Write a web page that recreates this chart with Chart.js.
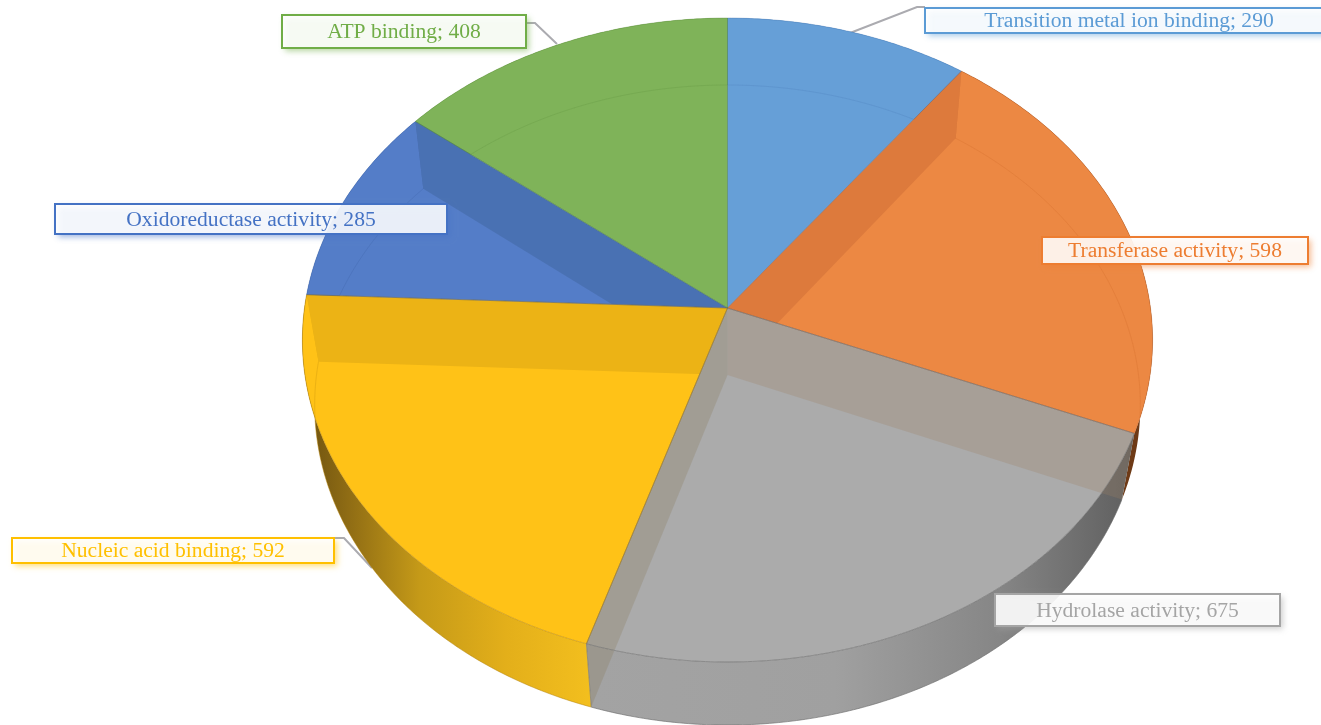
<!DOCTYPE html>
<html>
<head>
<meta charset="utf-8">
<title>Molecular function pie</title>
<script src="https://cdn.jsdelivr.net/npm/chart.js@4"></script>
<style>
    html, body { margin: 0; padding: 0; background: #fff; overflow: hidden; }
    canvas { display: block; }
</style>
</head>
<body>
<canvas id="pieChart" width="1321" height="725"></canvas>
<script>
// Data
const categories = ['Transition metal ion binding', 'Transferase activity', 'Hydrolase activity', 'Nucleic acid binding', 'Oxidoreductase activity', 'ATP binding'];
const counts = [290, 598, 675, 592, 285, 408];

// Styles per slice
const seriesColors = ['#5B9BD5', '#ED7D31', '#A5A5A5', '#FFC000', '#4472C4', '#70AD47'];
const topColors = ['#669FD7', '#EC8843', '#ABABAB', '#FFC217', '#547DC8', '#7FB359'];
const edgeColors = ['rgba(60,110,170,.35)', 'rgba(190,90,30,.35)', 'rgba(110,110,110,.65)', 'rgba(180,130,10,.5)', 'rgba(50,85,150,.35)', 'rgba(80,130,50,.35)'];

// Label boxes [left, top, right, bottom], the first one runs off the page
const labelBoxes = [[925, 8, 1333, 33], [1042, 237, 1308, 264], [995, 594, 1280, 626], [12, 538, 334, 563], [55, 204, 447, 234], [282, 15, 526, 48]];

// Leader lines, only three slices have one
const leaders = [
    [[925, 7], [917, 7], [850, 33]],
    [[334, 538], [344, 538], [372, 568]],
    [[526, 23], [535, 23], [557, 44]]
];

// Perspective of the two faces of the disc
const topFace = { cx: 727.5, cy: 308, a: 423, b: 318.8, k: 0.0994 };
const bottomFace = { cx: 727.5, cy: 375, a: 411, b: 317.2, k: 0.0938 };

// The radial wall seen through the top: [slice it shows on, boundary slice index, tint]
const wallTints = [
    [1, 1, 'rgba(87,0,0,.1)'],
    [2, 2, 'rgba(158,128,101,.28)'],
    [2, 3, 'rgba(140,126,97,.3)'],
    [3, 4, 'rgba(17,19,0,.08)'],
    [4, 5, 'rgba(0,33,33,.12)']
];

function project(face, angle) {
    const u = Math.cos(angle);
    const v = -Math.sin(angle);
    const w = 1 + face.k * v;
    return [face.cx + face.a * u / w, face.cy - face.b * v / w];
}

function traceArc(ctx, face, from, to) {
    const steps = Math.max(2, Math.ceil(Math.abs(to - from) / 0.01));
    for (let i = 0; i <= steps; i++) {
        const p = project(face, from + (to - from) * i / steps);
        ctx.lineTo(p[0], p[1]);
    }
}

function wedgePath(ctx, face, arc) {
    ctx.beginPath();
    ctx.moveTo(face.cx, face.cy);
    traceArc(ctx, face, arc.startAngle, arc.endAngle);
    ctx.closePath();
}

function sidePath(ctx, arc) {
    ctx.beginPath();
    traceArc(ctx, topFace, arc.startAngle, arc.endAngle);
    traceArc(ctx, bottomFace, arc.endAngle, arc.startAngle);
    ctx.closePath();
}

function sideGradient(ctx, index) {
    if (index === 2) {
        const g = ctx.createLinearGradient(590, 0, 1135, 0);
        g.addColorStop(0, '#A3A3A3');
        g.addColorStop(0.45, '#A0A0A0');
        g.addColorStop(0.75, '#868686');
        g.addColorStop(1, '#5E5E5E');
        return g;
    }
    if (index === 3) {
        const g = ctx.createLinearGradient(305, 0, 592, 0);
        g.addColorStop(0, '#6E5210');
        g.addColorStop(0.15, '#8F6C14');
        g.addColorStop(0.4, '#C59A18');
        g.addColorStop(0.7, '#E3AF1A');
        g.addColorStop(1, '#F3BF1E');
        return g;
    }
    if (index === 1) return '#6E3A16';
    return topColors[index];
}

function drawWallTint(ctx, arcs, tint) {
    const slice = arcs[tint[0]];
    const edge = arcs[tint[1]].startAngle;
    const p1 = project(topFace, edge);
    const p2 = project(bottomFace, edge);
    const clips = [() => wedgePath(ctx, topFace, slice), () => sidePath(ctx, slice)];
    clips.forEach((clip) => {
        ctx.save();
        clip();
        ctx.clip();
        ctx.beginPath();
        ctx.moveTo(topFace.cx, topFace.cy);
        ctx.lineTo(p1[0], p1[1]);
        ctx.lineTo(p2[0], p2[1]);
        ctx.lineTo(bottomFace.cx, bottomFace.cy);
        ctx.closePath();
        ctx.fillStyle = tint[2];
        ctx.fill();
        ctx.restore();
    });
}

function drawLabel(ctx, index) {
    const box = labelBoxes[index];
    const w = box[2] - box[0];
    const h = box[3] - box[1];
    ctx.save();
    ctx.shadowColor = seriesColors[index] + '99';
    ctx.shadowBlur = 6;
    ctx.shadowOffsetX = 3;
    ctx.shadowOffsetY = 3;
    ctx.fillStyle = 'rgba(255,255,255,.88)';
    ctx.fillRect(box[0], box[1], w, h);
    ctx.restore();
    ctx.strokeStyle = seriesColors[index];
    ctx.lineWidth = 2;
    ctx.strokeRect(box[0], box[1], w, h);
    ctx.fillStyle = seriesColors[index];
    ctx.font = '21.6px "Liberation Serif"';
    ctx.textAlign = 'center';
    ctx.textBaseline = 'middle';
    ctx.fillText(categories[index] + '; ' + counts[index], box[0] + w / 2, box[1] + h / 2 + 1);
}

// Chart.js works out the slice angles, this plugin draws them as the tilted disc
const tiltedDisc = {
    id: 'tiltedDisc',
    beforeDatasetsDraw(chart) {
        const ctx = chart.ctx;
        const arcs = chart.getDatasetMeta(0).data;
        ctx.save();

        // leader lines sit under the disc
        ctx.strokeStyle = '#ABABB0';
        ctx.lineWidth = 2;
        leaders.forEach((points) => {
            ctx.beginPath();
            points.forEach((p) => ctx.lineTo(p[0], p[1]));
            ctx.stroke();
        });

        // outer wall
        arcs.forEach((arc, i) => {
            sidePath(ctx, arc);
            ctx.fillStyle = sideGradient(ctx, i);
            ctx.fill();
        });

        // gray and yellow bottom rim, only where it is not behind the top face
        ctx.save();
        ctx.beginPath();
        ctx.rect(0, 0, 1321, 725);
        traceArc(ctx, topFace, 0, Math.PI * 2);
        ctx.closePath();
        ctx.clip('evenodd');
        [2, 3].forEach((i) => {
            ctx.beginPath();
            traceArc(ctx, bottomFace, arcs[i].startAngle, arcs[i].endAngle);
            ctx.strokeStyle = edgeColors[i];
            ctx.lineWidth = 1;
            ctx.stroke();
        });
        ctx.restore();

        // top face
        arcs.forEach((arc, i) => {
            wedgePath(ctx, topFace, arc);
            ctx.fillStyle = topColors[i];
            ctx.fill();
        });

        wallTints.forEach((tint) => drawWallTint(ctx, arcs, tint));

        // rim of the bottom face, it shows faintly through the top
        arcs.forEach((arc, i) => {
            ctx.save();
            wedgePath(ctx, topFace, arc);
            ctx.clip();
            ctx.beginPath();
            traceArc(ctx, bottomFace, arc.startAngle, arc.endAngle);
            ctx.strokeStyle = edgeColors[i];
            ctx.globalAlpha = 0.5;
            ctx.lineWidth = 1;
            ctx.stroke();
            ctx.restore();
        });

        // slice edges
        arcs.forEach((arc, i) => {
            wedgePath(ctx, topFace, arc);
            ctx.strokeStyle = edgeColors[i];
            ctx.lineWidth = 1;
            ctx.stroke();
        });

        // vertical edge where the gray and yellow walls meet
        const a = project(topFace, arcs[3].startAngle);
        const b = project(bottomFace, arcs[3].startAngle);
        ctx.beginPath();
        ctx.moveTo(a[0], a[1]);
        ctx.lineTo(b[0], b[1]);
        ctx.strokeStyle = 'rgba(120,120,120,.7)';
        ctx.stroke();

        arcs.forEach((arc, i) => drawLabel(ctx, i));

        ctx.restore();
        return false;
    }
};

new Chart(document.getElementById('pieChart').getContext('2d'), {
    type: 'pie',
    data: {
        labels: categories,
        datasets: [{
            data: counts,
            backgroundColor: seriesColors
        }]
    },
    options: {
        responsive: false,
        animation: false,
        plugins: {
            legend: { display: false },
            tooltip: { enabled: false }
        }
    },
    plugins: [tiltedDisc]
});
</script>
</body>
</html>
